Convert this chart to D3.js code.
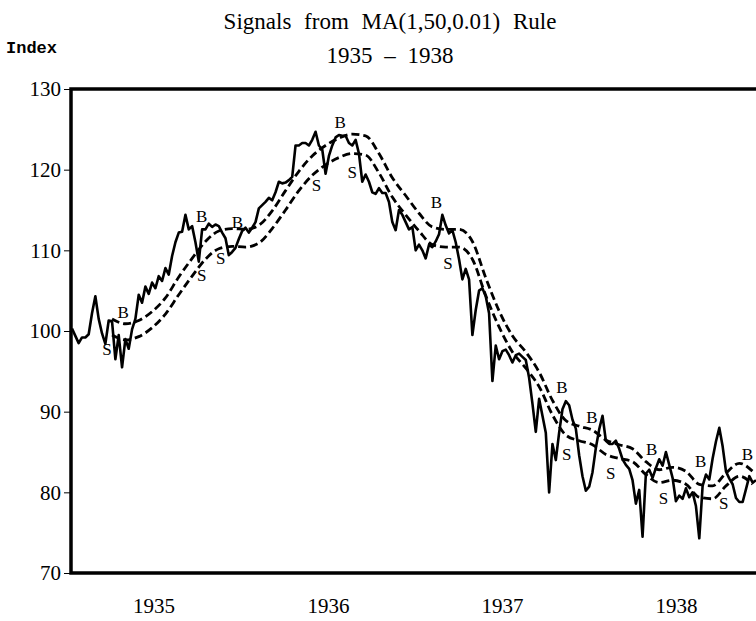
<!DOCTYPE html>
<html>
<head>
<meta charset="utf-8">
<script src="https://cdn.jsdelivr.net/npm/d3@7"></script>
<style>
  body { margin: 0; background: #fff; }
  text { fill: #000; }
</style>
</head>
<body>
<script>
// weekly index, first observation in the week of Jan 11, 1935
const startDate = new Date(1935, 0, 11);

const price = [
  100.3, 99.4, 98.5, 99.2, 99.2, 99.6, 102.2, 104.3, 101.5, 99.7,
  98.4, 101.3, 101.2, 96.5, 99.5, 95.5, 99.0, 97.8, 100.2, 101.5,
  104.5, 103.5, 105.5, 104.6, 106.0, 105.3, 106.8, 106.2, 107.8, 107.0,
  109.3, 111.0, 112.2, 112.3, 114.4, 112.6, 113.0, 111.0, 108.6, 112.6,
  112.6, 113.3, 112.9, 113.2, 113.0, 112.2, 111.5, 109.4, 109.8, 110.3,
  111.4, 112.4, 112.8, 112.2, 112.8, 113.5, 115.2, 115.6, 116.0, 116.5,
  116.2, 117.2, 118.5, 118.3, 118.4, 118.7, 119.1, 123.0, 123.0, 123.3,
  123.3, 123.0, 123.7, 124.7, 123.0, 122.5, 119.5, 121.7, 123.0, 124.0,
  124.3, 124.2, 124.2, 123.3, 123.0, 123.7, 122.0, 118.5, 119.4, 118.5,
  117.2, 117.0, 117.7, 117.1, 117.1, 116.0, 113.5, 112.5, 115.0, 114.4,
  113.5, 112.6, 112.9, 110.0, 110.7, 110.0, 109.0, 110.7, 110.4, 111.1,
  112.0, 114.4, 113.1, 112.1, 112.5, 111.0, 108.9, 106.4, 107.7, 106.4,
  99.5, 102.6, 105.0, 105.3, 104.3, 102.2, 93.8, 98.2, 96.5, 97.5,
  97.7, 97.0, 96.1, 97.0, 97.2, 96.8, 96.4, 94.2, 91.0, 87.5,
  91.6, 89.5, 87.4, 80.0, 86.0, 84.0, 87.4, 90.3, 91.3, 90.8,
  89.0, 87.9, 84.6, 82.0, 80.2, 80.7, 82.5, 85.5, 87.8, 89.5,
  86.4, 86.0, 86.0, 86.4, 85.4, 84.1, 83.4, 82.9, 81.5, 78.6,
  80.3, 74.5, 82.3, 82.8, 81.8, 83.0, 84.1, 83.3, 85.0, 83.4,
  81.8, 78.9, 79.6, 79.2, 80.5, 79.4, 80.0, 78.3, 74.3, 80.8,
  82.2, 81.6, 84.2, 86.3, 88.0, 85.7, 82.6, 81.7, 81.0, 79.3,
  78.8, 78.8, 80.4, 82.0, 81.2, 81.5
];

// 50-day moving average band, read every four weeks
const maWeeks = [
  12, 16, 20, 24, 28, 32, 36, 40, 44, 48, 52, 56, 60, 64, 68, 72, 76,
  80, 84, 88, 92, 96, 100, 104, 108, 112, 116, 120, 124, 128, 132, 136,
  140, 144, 148, 152, 156, 160, 164, 168, 172, 176, 180, 184, 188, 192,
  196, 200, 204
];
const upperBand = [
  101.5, 100.9, 101.3, 102.4, 104.1, 106.7, 109.0, 111.1, 112.4, 112.7,
  112.6, 113.1, 114.9, 117.4, 119.8, 121.7, 123.0, 123.9, 124.4, 124.2,
  122.0, 119.0, 116.8, 114.6, 112.9, 112.6, 112.6, 111.1, 106.6, 102.5,
  99.4, 97.4, 94.9, 91.4, 88.9, 88.2, 87.7, 86.5, 85.9, 85.4,
  83.8, 82.8, 83.1, 82.6, 81.0, 80.8, 82.4, 83.6, 82.6
];
const lowerBand = [
  99.5, 98.9, 99.3, 100.4, 102.1, 104.5, 106.8, 108.9, 110.2, 110.5,
  110.4, 110.9, 112.7, 115.0, 117.4, 119.3, 120.6, 121.5, 122.0, 121.8,
  119.6, 116.6, 114.4, 112.4, 110.7, 110.4, 110.4, 108.9, 104.4, 100.5,
  97.4, 95.4, 93.1, 89.6, 87.1, 86.4, 85.9, 84.7, 84.2, 83.8,
  82.2, 81.2, 81.5, 81.0, 79.4, 79.2, 80.8, 82.0, 81.0
];

// buy / sell signals: week, type, level of the letter
const signals = [
  { week: 10.5, type: "S", level: 97.8 },
  { week: 15.3, type: "B", level: 102.3 },
  { week: 38.9, type: "B", level: 114.3 },
  { week: 38.9, type: "S", level: 106.9 },
  { week: 44.6, type: "S", level: 109.0 },
  { week: 49.6, type: "B", level: 113.5 },
  { week: 73.3, type: "S", level: 118.1 },
  { week: 80.4, type: "B", level: 125.9 },
  { week: 84.0, type: "S", level: 119.7 },
  { week: 109.2, type: "B", level: 116.0 },
  { week: 112.7, type: "S", level: 108.4 },
  { week: 146.8, type: "B", level: 93.0 },
  { week: 148.3, type: "S", level: 84.8 },
  { week: 155.8, type: "B", level: 89.3 },
  { week: 161.5, type: "S", level: 82.4 },
  { week: 173.7, type: "B", level: 85.4 },
  { week: 177.3, type: "S", level: 79.3 },
  { week: 188.4, type: "B", level: 83.9 },
  { week: 195.3, type: "S", level: 78.7 },
  { week: 202.4, type: "B", level: 84.8 }
];

const yTicks = [70, 80, 90, 100, 110, 120, 130];
const years = [1935, 1936, 1937, 1938];

const width = 756, height = 621;
const margin = { top: 89, right: 0, bottom: 48, left: 72 };

const svg = d3.select("body").append("svg")
  .attr("width", width)
  .attr("height", height);

const weekDate = i => new Date(startDate.getTime() + i * 7 * 864e5);

const x = d3.scaleTime()
  .domain([startDate, new Date(1938, 11, 16)])
  .range([margin.left, width - margin.right]);

const y = d3.scaleLinear()
  .domain([70, 130])
  .range([height - margin.bottom, margin.top]);

const serif = "'Liberation Serif', 'DejaVu Serif', serif";

// titles
svg.append("text")
  .attr("x", 390)
  .attr("y", 29)
  .attr("text-anchor", "middle")
  .style("font-family", serif)
  .style("font-size", "23px")
  .style("word-spacing", "7px")
  .text("Signals from MA(1,50,0.01) Rule");

svg.append("text")
  .attr("x", 390)
  .attr("y", 63)
  .attr("text-anchor", "middle")
  .style("font-family", serif)
  .style("font-size", "23px")
  .style("word-spacing", "6px")
  .text("1935 \u2013 1938");

svg.append("text")
  .attr("x", 6)
  .attr("y", 53)
  .style("font-family", "'Liberation Mono', monospace")
  .style("font-weight", "bold")
  .style("font-size", "17px")
  .text("Index");

// clip
svg.append("clipPath").attr("id", "plot")
  .append("rect")
  .attr("x", margin.left)
  .attr("y", margin.top)
  .attr("width", width - margin.left)
  .attr("height", height - margin.bottom - margin.top);

const plot = svg.append("g").attr("clip-path", "url(#plot)");

const band = (vals) => d3.line()
  .x((d, i) => x(weekDate(maWeeks[i])))
  .y(d => y(d))
  .curve(d3.curveMonotoneX)(vals);

[upperBand, lowerBand].forEach(vals => {
  plot.append("path")
    .attr("d", band(vals))
    .attr("fill", "none")
    .attr("stroke", "#000")
    .attr("stroke-width", 2.8)
    .attr("stroke-dasharray", "8,4");
});

plot.append("path")
  .datum(price)
  .attr("d", d3.line()
    .x((d, i) => x(weekDate(i)))
    .y(d => y(d)))
  .attr("fill", "none")
  .attr("stroke", "#000")
  .attr("stroke-width", 2.6)
  .attr("stroke-linejoin", "round");

// signal letters
svg.append("g")
  .selectAll("text")
  .data(signals)
  .join("text")
  .attr("x", d => x(weekDate(d.week)))
  .attr("y", d => y(d.level))
  .attr("dy", "0.35em")
  .attr("text-anchor", "middle")
  .style("font-family", serif)
  .style("font-size", "17px")
  .text(d => d.type);

// y axis
const yAxis = svg.append("g")
  .attr("transform", `translate(${margin.left - 2},0)`)
  .call(d3.axisLeft(y).tickValues(yTicks).tickSize(6).tickPadding(3));
yAxis.select(".domain").remove();
yAxis.selectAll("text")
  .style("font-family", serif)
  .style("font-size", "21px");

// x axis labels
const xAxis = svg.append("g")
  .attr("transform", `translate(0,${height - margin.bottom})`)
  .call(d3.axisBottom(x)
    .tickValues(years.map(yr => new Date(yr, 6, 1)))
    .tickFormat(d3.timeFormat("%Y"))
    .tickSize(0)
    .tickPadding(25));
xAxis.select(".domain").remove();
xAxis.selectAll("text")
  .style("font-family", serif)
  .style("font-size", "21px");

// frame: top, left, bottom
svg.append("path")
  .attr("d", d3.line()([
    [width, y(130)], [margin.left - 1, y(130)],
    [margin.left - 1, y(70)], [width, y(70)]
  ]))
  .attr("fill", "none")
  .attr("stroke", "#000")
  .attr("stroke-width", 3.5);
</script>
</body>
</html>
